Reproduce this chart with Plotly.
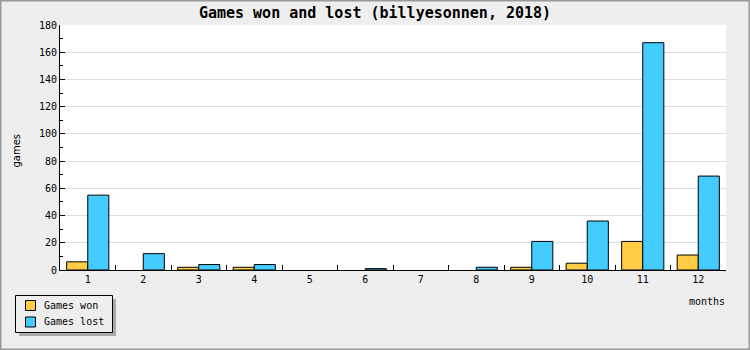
import plotly.graph_objects as go

months = ["1", "2", "3", "4", "5", "6", "7", "8", "9", "10", "11", "12"]
games_won = [6, 0, 2, 2, 0, 0, 0, 0, 2, 5, 21, 11]
games_lost = [55, 12, 4, 4, 0, 1, 0, 2, 21, 36, 167, 69]
series_names = ["Games won", "Games lost"]
series_colors = ["#ffcc44", "#44ccff"]

FONT = "DejaVu Sans Mono"
W, H = 750, 350
L, R, T, B = 60, 24, 25, 80
PW, PH = W - L - R, H - T - B

def px(x):
    return (x - L) / PW

def py(y):
    return (H - B - y) / PH

def nz(vals):
    # zero-height bars are not drawn in the reference
    return [v if v else None for v in vals]

fig = go.Figure()
for name, vals, col in zip(series_names, [games_won, games_lost], series_colors):
    fig.add_trace(go.Bar(x=months, y=nz(vals), name=name, showlegend=False,
                         marker=dict(color=col, line=dict(color="black", width=1))))

shapes = [
    # legend shadow and box
    dict(type="rect", xref="paper", yref="paper", x0=px(19), x1=px(116), y0=py(299), y1=py(336),
         fillcolor="#aaaaaa", line=dict(width=0), layer="above"),
    dict(type="rect", xref="paper", yref="paper", x0=px(15.5), x1=px(112.5), y0=py(295.5), y1=py(332.5),
         fillcolor="#eeeeee", line=dict(color="black", width=1), layer="above"),
    # outer border
    dict(type="rect", xref="paper", yref="paper", x0=px(0.5), x1=px(W - 0.5), y0=py(0.5), y1=py(H - 0.5),
         fillcolor="rgba(0,0,0,0)", line=dict(color="#999999", width=2), layer="above"),
]
annotations = [
    dict(text="games", xref="paper", yref="paper", x=px(15.5), y=py(150), textangle=-90,
         showarrow=False, xanchor="center", yanchor="middle",
         font=dict(family="DejaVu Sans", size=10)),
    dict(text="months", xref="paper", yref="paper", x=px(706.5), y=py(301),
         showarrow=False, xanchor="center", yanchor="middle", font=dict(size=10)),
]
for i, (name, col) in enumerate(zip(series_names, series_colors)):
    top = 300.5 + i * 16.5
    shapes.append(dict(type="rect", xref="paper", yref="paper", x0=px(25.5), x1=px(35.5),
                       y0=py(top), y1=py(top + 10), fillcolor=col,
                       line=dict(color="black", width=1), layer="above"))
    annotations.append(dict(text=name, xref="paper", yref="paper", x=px(42), y=py(top + 5),
                            showarrow=False, xanchor="left", yanchor="middle",
                            font=dict(size=10)))

fig.update_layout(
    width=W, height=H,
    margin=dict(l=L, r=R, t=T, b=B, pad=0, autoexpand=False),
    paper_bgcolor="#eeeeee", plot_bgcolor="white",
    barmode="group", bargap=0.24, bargroupgap=0,
    font=dict(family=FONT, size=10, color="black"),
    title=dict(text="Games won and lost (billyesonnen, 2018)", x=0.5, xanchor="center",
               y=1 - 13 / H, yanchor="middle", xref="container", yref="container",
               font=dict(family=FONT, size=15, color="black", weight="bold")),
    showlegend=False,
    xaxis=dict(type="category", showline=True, linecolor="black", linewidth=1,
               ticks="inside", tickson="boundaries", ticklen=5, tickcolor="black",
               showgrid=False, zeroline=False),
    yaxis=dict(range=[0, 180], dtick=20, showline=True, linecolor="black", linewidth=1,
               ticks="inside", ticklen=5, tickcolor="black", showgrid=True,
               gridcolor="#dddddd", zeroline=False,
               minor=dict(dtick=10, ticks="inside", ticklen=3, tickcolor="black", showgrid=False)),
    annotations=annotations,
    shapes=shapes,
)

fig.write_html("out.html")
